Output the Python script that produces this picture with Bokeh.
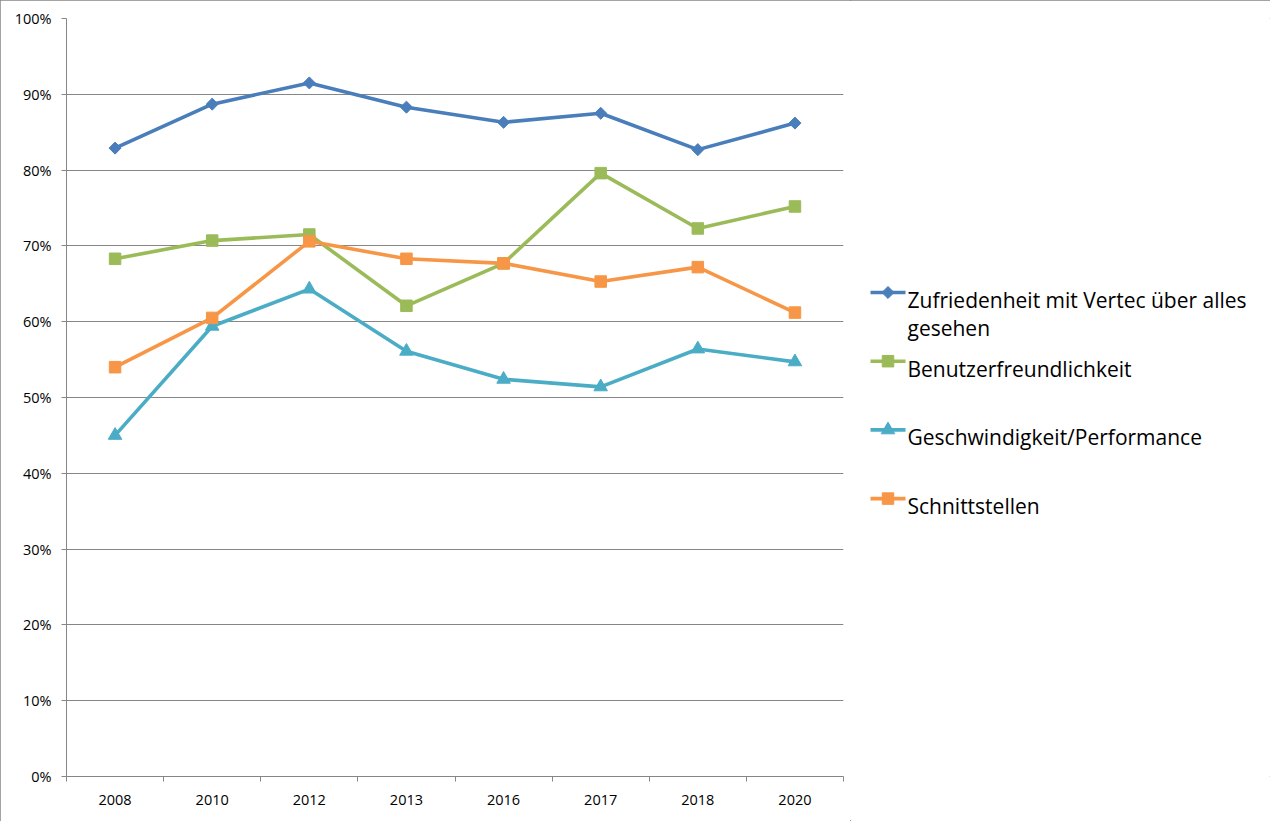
import math
import textwrap
from bokeh.plotting import figure
from bokeh.layouts import row
from bokeh.models import (ColumnDataSource, FixedTicker, NumeralTickFormatter, Range1d)
from bokeh.embed import file_html
from bokeh.resources import INLINE
from bokeh.core.properties import value

# ---- data ----
years = ["2008", "2010", "2012", "2013", "2016", "2017", "2018", "2020"]
zufriedenheit = [0.829, 0.887, 0.915, 0.883, 0.863, 0.875, 0.827, 0.862]
benutzer = [0.683, 0.707, 0.715, 0.621, 0.677, 0.796, 0.723, 0.752]
geschwindigkeit = [0.450, 0.594, 0.643, 0.561, 0.524, 0.514, 0.564, 0.547]
schnittstellen = [0.540, 0.605, 0.706, 0.683, 0.677, 0.653, 0.672, 0.612]
y_ticks = [i / 10 for i in range(11)]

series_names = ["Zufriedenheit mit Vertec über alles gesehen", "Benutzerfreundlichkeit",
                "Geschwindigkeit/Performance", "Schnittstellen"]
series_values = [zufriedenheit, benutzer, geschwindigkeit, schnittstellen]

# ---- style ----
colors = ["#4A7EBB", "#9BBB59", "#4BACC6", "#F79646"]
markers = [("square", 8.5, math.pi / 4), ("square", 11.5, 0.0),
           ("triangle", 13.5, 0.0), ("square", 11.5, 0.0)]
FONT = "Open Sans"
GRID = "#868686"
W_MAIN, W_LEG, H = 850, 420, 821
B_TOP, B_BOTTOM = 18, 45

xpos = list(range(len(years)))

p = figure(width=W_MAIN, height=H, output_backend="svg", toolbar_location=None,
           x_range=Range1d(-0.5, len(years) - 0.5), y_range=Range1d(0, 1),
           min_border_left=66, min_border_top=B_TOP, min_border_bottom=B_BOTTOM,
           min_border_right=7)
p.outline_line_color = None
p.background_fill_color = "white"
p.border_fill_color = "white"

# x axis: labels centred on categories, tick marks on category boundaries
p.xaxis.ticker = FixedTicker(ticks=xpos, minor_ticks=[i - 0.5 for i in range(len(years) + 1)])
p.xaxis.major_label_overrides = {i: y for i, y in enumerate(years)}
p.xaxis.major_tick_out = 0
p.xaxis.major_tick_in = 0
p.xaxis.minor_tick_out = 5
p.xaxis.minor_tick_in = 0
p.xaxis.minor_tick_line_color = GRID
p.xaxis.axis_line_color = GRID
p.xaxis.major_label_standoff = 13
p.xaxis.major_label_text_font = FONT
p.xaxis.major_label_text_font_size = "14.5px"
p.xaxis.major_label_text_color = "#000000"
p.xgrid.grid_line_color = None

# y axis
p.yaxis.ticker = FixedTicker(ticks=y_ticks, minor_ticks=[])
p.yaxis.formatter = NumeralTickFormatter(format="0%")
p.yaxis.major_tick_out = 5
p.yaxis.major_tick_in = 0
p.yaxis.major_tick_line_color = GRID
p.yaxis.axis_line_color = GRID
p.yaxis.major_label_standoff = 10
p.yaxis.major_label_text_font = FONT
p.yaxis.major_label_text_font_size = "14.5px"
p.yaxis.major_label_text_color = "#000000"
p.ygrid.grid_line_color = GRID
p.ygrid.grid_line_width = 1

for vals, col, (mk, sz, ang) in zip(series_values, colors, markers):
    src = ColumnDataSource(dict(x=xpos, y=vals))
    p.line("x", "y", source=src, line_color=col, line_width=3.6)
    p.scatter("x", "y", source=src, marker=mk, size=sz, angle=ang,
              fill_color=col, line_color=col)

# ---- legend panel (pixel coordinates of the whole page) ----
q = figure(width=W_LEG, height=H, output_backend="svg", toolbar_location=None,
           x_range=Range1d(W_MAIN, W_MAIN + W_LEG), y_range=Range1d(H - B_BOTTOM, B_TOP),
           x_axis_location=None, y_axis_location=None,
           min_border_left=0, min_border_right=0,
           min_border_top=B_TOP, min_border_bottom=B_BOTTOM)
q.outline_line_color = None
q.grid.visible = False
q.background_fill_color = "white"
q.border_fill_color = "white"

LEG_X0, LEG_X1, TXT_X = 870, 905, 907
LEG_Y0, LEG_PITCH, LINE_GAP, BASE_OFF = 292, 68.7, 28, 7.3

for i, (name, col, (mk, sz, ang)) in enumerate(zip(series_names, colors, markers)):
    yc = LEG_Y0 + i * LEG_PITCH
    q.line([LEG_X0, LEG_X1], [yc, yc], line_color=col, line_width=3.6)
    q.scatter([(LEG_X0 + LEG_X1) / 2], [yc], marker=mk, size=sz, angle=ang,
              fill_color=col, line_color=col)
    lines = textwrap.wrap(name, 36)
    q.text(x=[TXT_X] * len(lines), y=[yc + BASE_OFF + k * LINE_GAP for k in range(len(lines))],
           text=lines, text_font=value(FONT), text_font_size="21px",
           text_color="#000000", text_baseline="alphabetic", text_align="left")

layout = row(p, q, spacing=0,
             styles={"outline": "1px solid #868686", "outline-offset": "-1px"})

open("out.html", "w").write(file_html(layout, INLINE))
